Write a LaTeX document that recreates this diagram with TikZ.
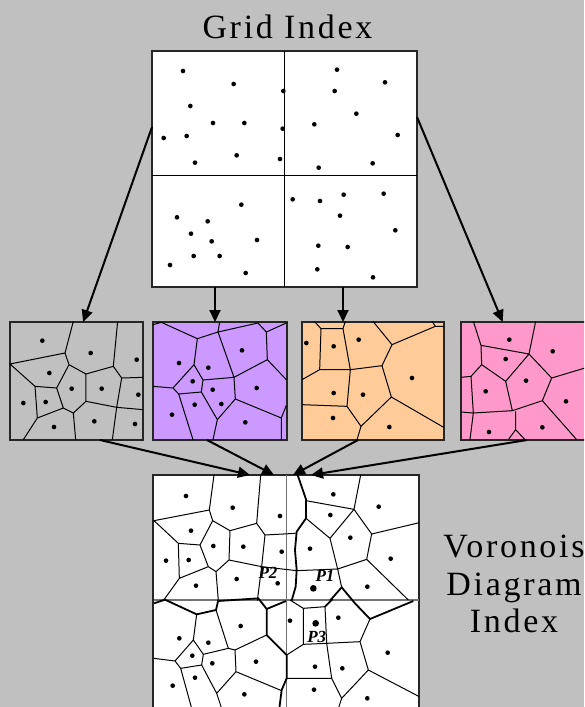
\documentclass[tikz,border=0pt]{standalone}
\usepackage{fontspec}
\setmainfont{Liberation Serif}
\newfontfamily\titlefont[LetterSpace=8]{Liberation Serif}
\usetikzlibrary{arrows.meta,calc}
\definecolor{bgcol}{HTML}{C0C0C0}
\definecolor{cellcol1}{HTML}{C0C0C0}
\definecolor{cellcol2}{HTML}{CC99FF}
\definecolor{cellcol3}{HTML}{FFCC99}
\definecolor{cellcol4}{HTML}{FF99CC}
\colorlet{midcol}{black!55}

\begin{document}
\begin{tikzpicture}[x=1pt, y=-1pt,
	    box/.style={draw=black!85, line width=1.1pt, inner sep=0pt, outer sep=0pt},
	    cell/.style={line width=1pt},
	    seam/.style={line width=1.8pt},
	    arr/.style={line width=2pt, -{Triangle[length=12pt,width=11pt]}},
	    bigtext/.style={font=\titlefont\fontsize{34}{37.5}\selectfont, inner sep=0pt},
	    plabel/.style={font=\fontsize{17}{17}\selectfont\bfseries\itshape, inner sep=0pt}]
	    \useasboundingbox (0,0) rectangle (584,707);
	    \fill[bgcol] (0,0) rectangle (584,707);
	    \clip (0,0) rectangle (584,707);

		\node[bigtext] (title) at (287.5,27) {Grid Index};
		\node[box, fill=white, minimum width=265pt, minimum height=236pt] (grid) at (284.5,169) {};
		\node[box, fill=cellcol1, minimum width=133pt, minimum height=118pt] (vor1) at (76.5,381) {};
		\node[box, fill=cellcol2, minimum width=134pt, minimum height=118pt] (vor2) at (220,381) {};
		\node[box, fill=cellcol3, minimum width=142pt, minimum height=118pt] (vor3) at (373,381) {};
		\node[box, fill=cellcol4, minimum width=139pt, minimum height=118pt] (vor4) at (530.5,381) {};
		\node[box, fill=white, minimum width=266pt, minimum height=265pt] (merged) at (286,607.5) {};
		\node[bigtext, align=center] (vdlabel) at (514,584) {Voronois\\Diagram\\Index};

		% grid index: four cells of points
		\begin{scope}[shift={(140,40)}, scale=1/3]
			\draw[line width=1pt] (433,33) -- (433,740) (37,406) -- (832,406);
			\foreach \p in {(129,93),(281,132),(430,153),(151,198),(219,249),(313,249),(428,266),(71,294),(140,288),(290,346),(420,357),(165,368),
				(591,89),(735,127),(584,153),(649,221),(523,253),(773,285),(536,383),(698,370),
				(304,494),(111,532),(203,544),(153,581),(215,604),(351,600),(161,648),(239,648),(90,675),(317,699),
				(458,478),(540,483),(611,464),(731,461),(600,527),(766,571),(535,617),(623,621),(532,688),(699,712)}
				\fill \p circle (7);
		\end{scope}

		% local diagram 1
		\begin{scope}[shift={(5,318)}, scale=1/3]
			\draw[cell] (205,10) -- (180,105) -- (15,138) -- (90,205) -- (97,300) -- (55,365)
				(180,105) -- (192,140) -- (243,168) -- (325,145) -- (338,10)
				(325,145) -- (350,180) -- (415,178)
				(350,180) -- (335,268) -- (415,275)
				(335,268) -- (322,365)
				(243,168) -- (243,250) -- (335,268)
				(243,250) -- (205,285) -- (212,365)
				(205,285) -- (175,270) -- (155,210) -- (192,140)
				(155,210) -- (90,205)
				(97,300) -- (175,270);
			\foreach \p in {(112,68),(257,105),(395,125),(133,165),(200,212),(290,212),(400,230),(55,255),(122,252),(147,327),(268,310),(390,318)}
				\fill \p circle (7);
		\end{scope}

		% local diagram 2
		\begin{scope}[shift={(148,318)}, scale=1/3]
			\draw[cell] (15,20) -- (40,13) -- (148,62) -- (210,42) -- (215,12)
				(210,42) -- (330,15) -- (355,42) -- (415,15)
				(355,42) -- (358,125) -- (415,185)
				(358,125) -- (258,178) -- (210,42)
				(148,62) -- (138,140) -- (165,186) -- (258,178)
				(138,140) -- (75,210) -- (15,205)
				(75,210) -- (92,228) -- (160,222) -- (165,186)
				(160,222) -- (208,305) -- (262,243) -- (258,178)
				(262,243) -- (400,300) -- (415,262)
				(400,300) -- (400,365)
				(208,305) -- (195,365)
				(92,228) -- (135,365);
			\foreach \p in {(93,135),(282,97),(181,149),(134,190),(194,215),(326,210),(220,258),(140,260),(72,290),(292,313)}
				\fill \p circle (7);
		\end{scope}

		% local diagram 3
		\begin{scope}[shift={(297,318)}, scale=1/3]
			\draw[cell] (52,10) -- (72,32) -- (138,32) -- (145,10)
				(72,32) -- (68,155) -- (15,185)
				(68,155) -- (160,155) -- (138,32)
				(160,155) -- (255,143) -- (285,80) -- (228,10)
				(285,80) -- (415,25) -- (440,25)
				(405,10) -- (415,25)
				(255,143) -- (283,237) -- (440,328)
				(283,237) -- (192,325) -- (150,265) -- (160,155)
				(150,265) -- (15,260)
				(192,325) -- (180,365);
			\foreach \p in {(28,75),(110,85),(185,65),(345,180),(110,225),(198,230),(108,300),(277,327)}
				\fill \p circle (7);
		\end{scope}

		% local diagram 4
		\begin{scope}[shift={(455,318)}, scale=1/3]
			\draw[cell] (55,10) -- (78,82) -- (222,108) -- (242,10)
				(78,82) -- (80,140) -- (48,175) -- (18,178)
				(48,175) -- (55,285) -- (18,282)
				(55,285) -- (45,365)
				(80,140) -- (152,190) -- (222,108) -- (290,180) -- (390,150)
				(290,180) -- (262,248) -- (172,278) -- (152,190)
				(172,278) -- (55,285)
				(182,280) -- (182,335) -- (160,365)
				(182,335) -- (210,365)
				(262,248) -- (365,365);
			\foreach \p in {(163,65),(293,100),(152,123),(213,188),(92,220),(333,250),(262,328),(102,342)}
				\fill \p circle (7);
		\end{scope}

		% merged diagram, upper half
		\begin{scope}[shift={(150,470)}, scale=1/3]
			\draw[midcol, line width=1.3pt] (410,15) -- (410,800) (12,390) -- (808,390);
			\draw[cell] (192,15) -- (178,120) -- (12,152) -- (85,220) -- (88,325) -- (40,392)
				(178,120) -- (188,152) -- (240,182) -- (320,160) -- (332,15)
				(320,160) -- (345,195) -- (437,190)
				(345,195) -- (335,290) -- (322,392)
				(240,182) -- (237,270) -- (335,290) -- (440,302) -- (563,297)
				(237,270) -- (198,305) -- (205,392)
				(198,305) -- (175,290) -- (150,225) -- (188,152)
				(150,225) -- (85,220)
				(88,325) -- (175,290)
				(468,92) -- (612,118) -- (632,15)
				(612,118) -- (665,192) -- (808,158)
				(665,192) -- (650,268) -- (563,297)
				(650,268) -- (775,390)
				(468,145) -- (540,205) -- (612,118)
				(540,205) -- (563,297) -- (575,352);
			\draw[seam] (443,15) -- (468,88) -- (468,145) -- (440,185) -- (435,240) -- (440,300) -- (437,350) -- (425,392);
			\draw[seam] (540,392) -- (575,352) -- (615,400);
			\foreach \p in {(108,78),(248,113),(390,138),(123,182),(190,228),(280,230),(395,245),(48,272),(116,270),(138,347),(260,327),(383,340),
				(550,73),(686,110),(541,135),(601,203),(480,236),(722,266),(652,350)}
				\fill \p circle (7);
			\fill (490,355) circle (10);
		\end{scope}

		% merged diagram, lower half
		\begin{scope}[shift={(150,595)}, scale=1/3]
			\draw[seam] (12,25) -- (45,14) -- (140,58) -- (198,45) -- (205,15);
			\draw[seam] (205,18) -- (325,10) -- (350,42) -- (350,120) -- (410,180) -- (410,250) -- (395,285) -- (388,340);
			\draw[seam] (350,42) -- (408,18);
			\draw[cell] (140,58) -- (130,135) -- (75,198) -- (12,190)
				(130,135) -- (160,178) -- (235,160) -- (198,45)
				(235,160) -- (255,165) -- (350,120)
				(255,165) -- (258,230) -- (395,287)
				(258,230) -- (200,295) -- (155,210) -- (160,178)
				(155,210) -- (92,220) -- (75,198)
				(92,220) -- (125,340)
				(200,295) -- (215,340)
				(410,180) -- (460,148) -- (460,40) -- (420,15)
				(460,40) -- (525,35) -- (530,145) -- (460,148)
				(530,145) -- (630,140) -- (660,72)
				(630,140) -- (655,225) -- (808,305)
				(655,225) -- (575,310) -- (565,340)
				(575,310) -- (545,250) -- (530,145)
				(545,250) -- (410,250);
			\draw[seam] (548,12) -- (525,35);
			\draw[seam] (615,25) -- (660,72) -- (790,18);
			\foreach \p in {(420,77),(565,68),(88,130),(175,143),(272,93),(127,182),(187,205),(318,200),(135,248),(68,272),(283,298),
				(495,215),(577,220),(713,173),(492,284),(652,310)}
				\fill \p circle (7);
			\fill (497,85) circle (10);
		\end{scope}

		\node[plabel] (p2) at (268,573) {P2};
		\node[plabel] (p1) at (325,576) {P1};
		\node[plabel] (p3) at (316.7,636.7) {P3};

		% split: grid index to local diagrams
		\coordinate (g2) at ([xshift=-69.5pt]grid.south);
		\coordinate (g3) at ([xshift=58.5pt]grid.south);
		\draw[arr] ([yshift=42pt]grid.west) -- ($(vor1.north west)!0.55!(vor1.north east)$);
		\draw[arr] (g2) -- (g2 |- vor2.north);
		\draw[arr] (g3) -- (g3 |- vor3.north);
		\draw[arr] ([yshift=52pt]grid.east) -- ($(vor4.north west)!0.3!(vor4.north east)$);

		% merge: local diagrams to index
		\coordinate (m1) at ([xshift=-36pt]merged.north);
		\coordinate (m2) at ([xshift=-12pt]merged.north);
		\coordinate (m3) at ([xshift=7pt]merged.north);
		\coordinate (m4) at ([xshift=25pt]merged.north);
		\draw[arr] ([xshift=23.5pt]vor1.south) -- (m1);
		\draw[arr] ([xshift=-13pt]vor2.south) -- (m2);
		\draw[arr] ([xshift=-15pt]vor3.south) -- (m3);
		\draw[arr] ([xshift=-3.5pt]vor4.south) -- (m4);
	  \end{tikzpicture}
\end{document}
